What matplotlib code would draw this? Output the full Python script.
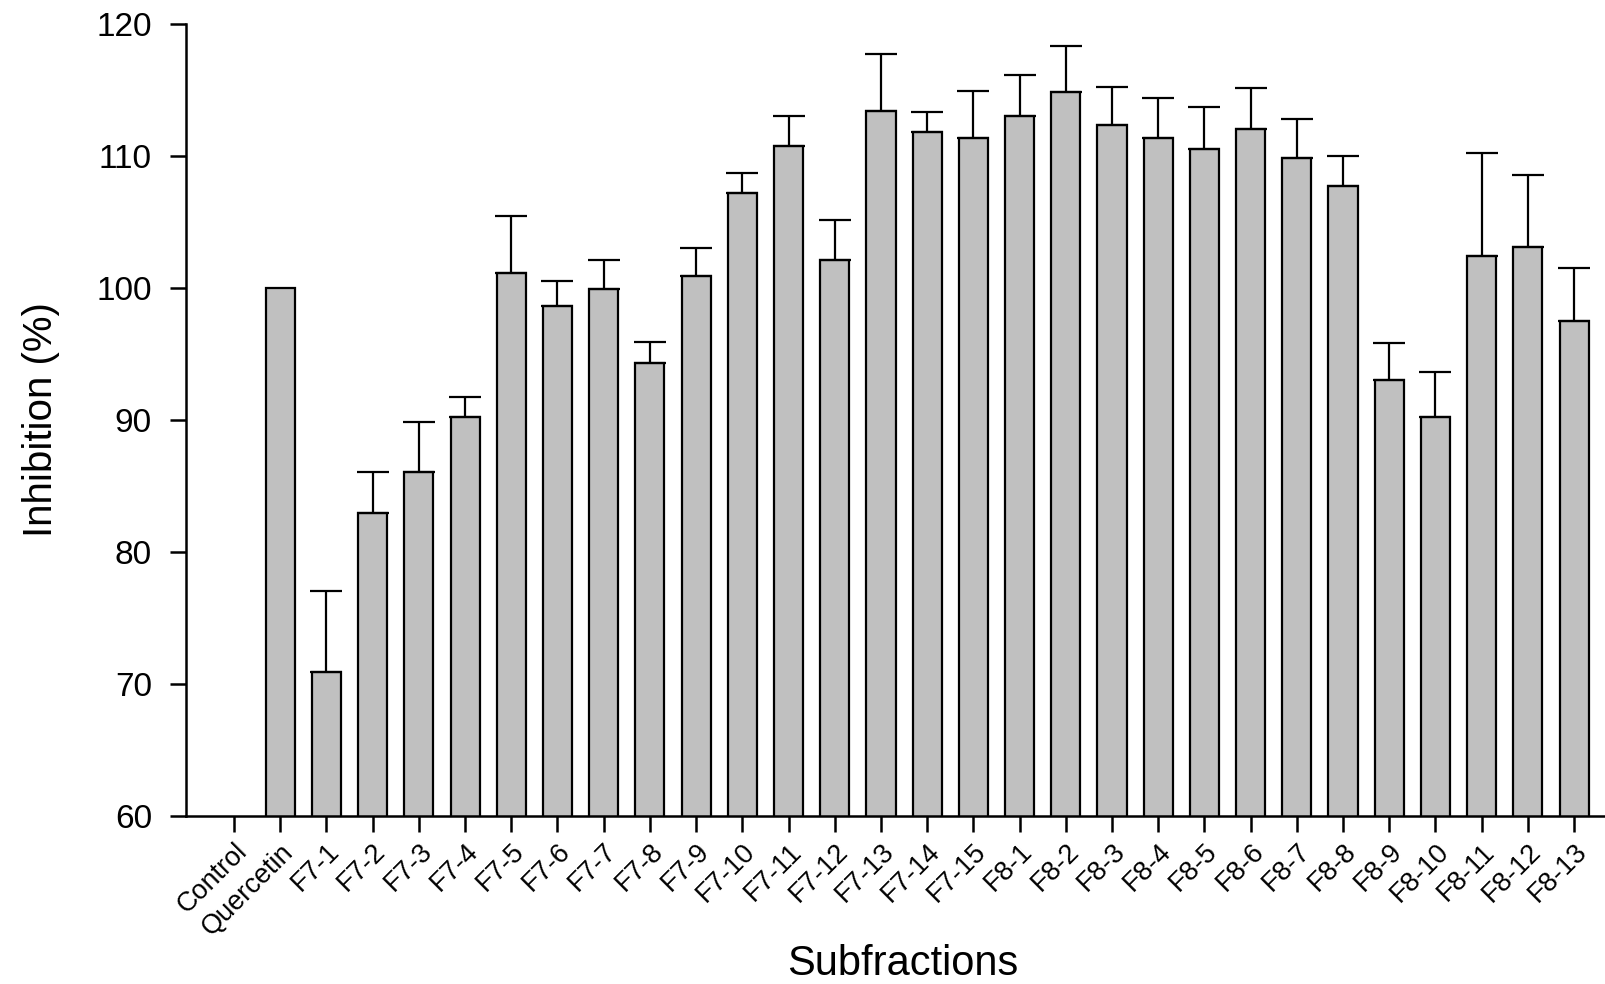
import numpy as np
import matplotlib.pyplot as plt

plt.rcParams['font.family'] = ['Liberation Sans', 'DejaVu Sans']

labels = ['Control', 'Quercetin',
          'F7-1', 'F7-2', 'F7-3', 'F7-4', 'F7-5', 'F7-6', 'F7-7', 'F7-8',
          'F7-9', 'F7-10', 'F7-11', 'F7-12', 'F7-13', 'F7-14', 'F7-15',
          'F8-1', 'F8-2', 'F8-3', 'F8-4', 'F8-5', 'F8-6', 'F8-7', 'F8-8',
          'F8-9', 'F8-10', 'F8-11', 'F8-12', 'F8-13']

# mean inhibition (%) per sample
inhibition = [0.0, 100.0,
              70.9, 82.9, 86.0, 90.2, 101.1, 98.6, 99.9, 94.3,
              100.9, 107.2, 110.7, 102.1, 113.4, 111.8, 111.3,
              113.0, 114.8, 112.3, 111.3, 110.5, 112.0, 109.8, 107.7,
              93.0, 90.2, 102.4, 103.1, 97.5]

# standard deviation (upper bar only); none for Control / Quercetin
sd = [0.0, 0.0,
      6.1, 3.1, 3.8, 1.5, 4.3, 1.9, 2.2, 1.6,
      2.1, 1.5, 2.3, 3.0, 4.3, 1.5, 3.6,
      3.1, 3.5, 2.9, 3.1, 3.2, 3.1, 3.0, 2.3,
      2.8, 3.4, 7.8, 5.4, 4.0]

x = np.arange(len(labels))
inhibition = np.array(inhibition)
sd = np.array(sd)

fig = plt.figure(figsize=(16.06, 9.84), dpi=100)
ax = fig.add_axes([0.1158, 0.171, 0.8836, 0.805])

ax.bar(x, inhibition, width=0.63, color='#c0c0c0', edgecolor='black',
       linewidth=1.6, zorder=2)

has_err = sd > 0
ax.errorbar(x[has_err], inhibition[has_err],
            yerr=[np.zeros(has_err.sum()), sd[has_err]],
            fmt='none', ecolor='black', elinewidth=1.6, capsize=11.3,
            capthick=1.6, zorder=3)

ax.set_ylim(60, 120)
ax.set_yticks(np.arange(60, 121, 10))
ax.set_xlim(-1.04, 29.67)
ax.set_xticks(x)
ax.set_xticklabels(labels, rotation=45, ha='right', va='top',
                   rotation_mode='anchor', fontsize=19.5)

for side in ['top', 'right']:
    ax.spines[side].set_visible(False)
for side in ['left', 'bottom']:
    ax.spines[side].set_linewidth(1.8)

ax.tick_params(axis='y', direction='out', length=11.5, width=1.8,
               labelsize=24, pad=13)
ax.tick_params(axis='x', direction='out', length=11.5, width=1.8, pad=5)

ax.set_ylabel('Inhibition (%)', fontsize=29)
ax.yaxis.set_label_coords(-0.089, 0.5)
ax.set_xlabel('Subfractions', fontsize=30)
ax.xaxis.set_label_coords(0.505, -0.162)

fig.savefig('out.png', dpi=100)
